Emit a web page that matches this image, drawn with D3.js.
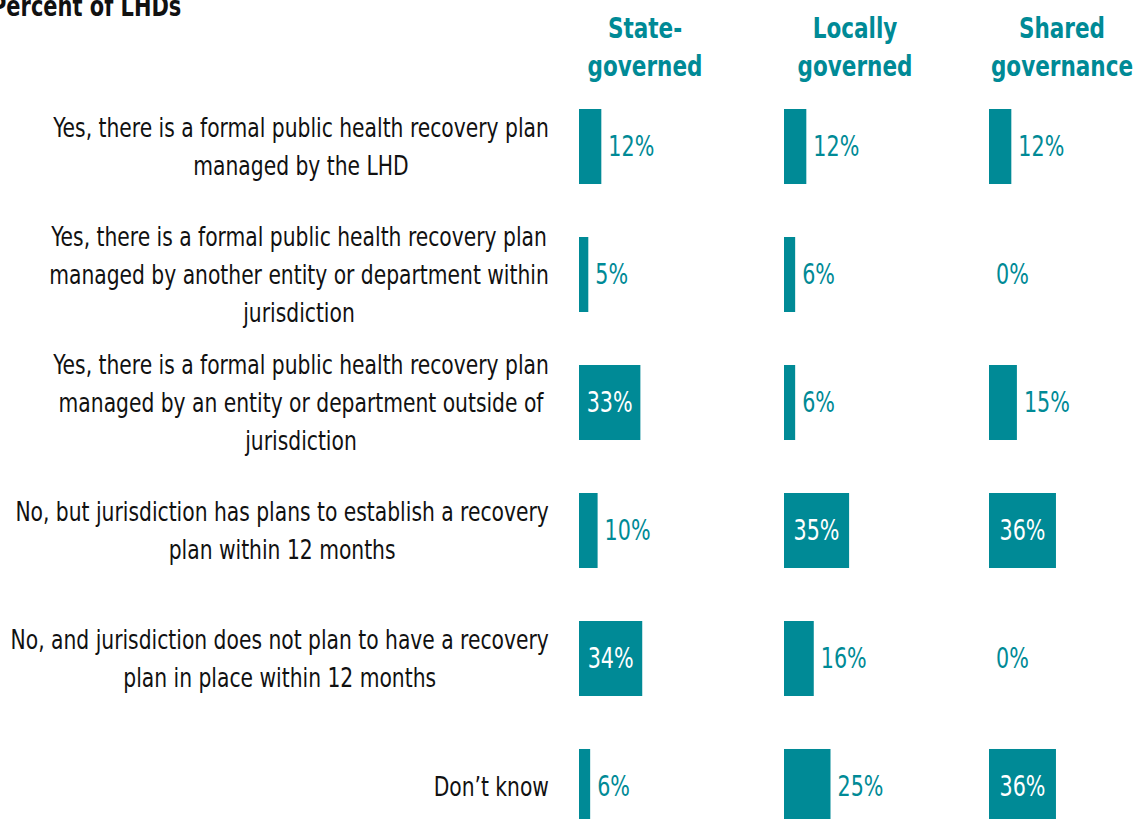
<!DOCTYPE html>
<html>
<head>
<meta charset="utf-8">
<script src="https://cdn.jsdelivr.net/npm/d3@7"></script>
<style>
  body { margin: 0; background: #fff; }
  svg { display: block; }
  text { font-family: "DejaVu Sans Condensed", "DejaVu Sans", sans-serif; }
</style>
</head>
<body>
<svg id="chart"></svg>
<script>
// Data
const categories = [
    "Yes, there is a formal public health recovery plan|managed by the LHD",
    "Yes, there is a formal public health recovery plan|managed by another entity or department within|jurisdiction",
    "Yes, there is a formal public health recovery plan|managed by an entity or department outside of|jurisdiction",
    "No, but jurisdiction has plans to establish a recovery|plan within 12 months",
    "No, and jurisdiction does not plan to have a recovery|plan in place within 12 months",
    "Don\u2019t know"
];
const groups = ["State-|governed", "Locally|governed", "Shared|governance"];
const stateGoverned = [12, 5, 33, 10, 34, 6];
const locallyGoverned = [12, 6, 6, 35, 16, 25];
const sharedGovernance = [12, 0, 15, 36, 0, 36];
const seriesValues = [stateGoverned, locallyGoverned, sharedGovernance];

const width = 1136, height = 819;
const teal = "#008a96";

const svg = d3.select("#chart")
    .attr("width", width)
    .attr("height", height);

// The original uses a condensed face (Myriad Condensed); squeeze a local font horizontally to match.
function squeeze(str, size, weight, target) {
    const t = svg.append("text").attr("font-size", size).attr("font-weight", weight).text(str);
    const w = t.node().getComputedTextLength();
    t.remove();
    return target / w;
}
const kLabel = squeeze("Yes, there is a formal public health recovery plan", 27, "normal", 496);
const kValue = squeeze("12%", 28, "normal", 46);
const kHead = squeeze("governed", 28, "bold", 115);
const kTitle = squeeze("ercent of LHDs", 28, "bold", 175);

function addText(parent, x, yy, k) {
    return parent.append("g")
        .attr("transform", `translate(${x},${yy}) scale(${k},1)`)
        .append("text");
}

// Scales
const y = d3.scaleBand()
    .domain(categories)
    .range([109, 824])
    .paddingInner(0.414)
    .paddingOuter(0);

const gx = d3.scalePoint()
    .domain(groups)
    .range([579, 989]);

const x = d3.scaleLinear()
    .domain([0, 100])
    .range([0, 186]);

// Title (cut off at top-left like the original)
addText(svg, -9, 16, kTitle)
    .attr("font-size", 28)
    .attr("font-weight", "bold")
    .attr("fill", "#111")
    .text("Percent of LHDs");

// Column headers
const headCenters = [645, 855, 1062];
groups.forEach((g, gi) => {
    g.split("|").forEach((line, i) => {
        addText(svg, headCenters[gi], 38 + i * 38, kHead)
            .attr("text-anchor", "middle")
            .attr("font-size", 28)
            .attr("font-weight", "bold")
            .attr("fill", teal)
            .text(line);
    });
});

// Category labels: lines centred in a block whose longest line ends at x=549
categories.forEach(c => {
    const lines = c.split("|");
    const cy = y(c) + y.bandwidth() / 2;
    const texts = lines.map((line, i) => {
        const t = svg.append("g");
        t.append("text")
            .attr("dy", "0.35em")
            .attr("font-size", 27)
            .attr("fill", "#111")
            .attr("text-anchor", "middle")
            .text(line);
        return { g: t, y: cy + (i - (lines.length - 1) / 2) * 38 };
    });
    const maxW = d3.max(texts, t => t.g.select("text").node().getComputedTextLength()) * kLabel;
    texts.forEach(t => t.g.attr("transform", `translate(${549 - maxW / 2},${t.y}) scale(${kLabel},1)`));
});

// Bars and value labels
groups.forEach((g, gi) => {
    const vals = seriesValues[gi];
    const panel = svg.append("g").attr("transform", `translate(${gx(g)},0)`);

    panel.selectAll("rect")
        .data(vals)
        .join("rect")
        .attr("x", 0)
        .attr("y", (d, i) => y(categories[i]))
        .attr("width", d => x(d))
        .attr("height", y.bandwidth())
        .attr("fill", teal);

    panel.selectAll("g.val")
        .data(vals)
        .join("g")
        .attr("class", "val")
        .attr("transform", (d, i) => `translate(${d >= 30 ? x(d) / 2 : x(d) + 7},${y(categories[i]) + y.bandwidth() / 2}) scale(${kValue},1)`)
        .append("text")
        .attr("dy", "0.35em")
        .attr("text-anchor", d => d >= 30 ? "middle" : "start")
        .attr("font-size", 28)
        .attr("fill", d => d >= 30 ? "#fff" : teal)
        .text(d => d + "%");
});
</script>
</body>
</html>
